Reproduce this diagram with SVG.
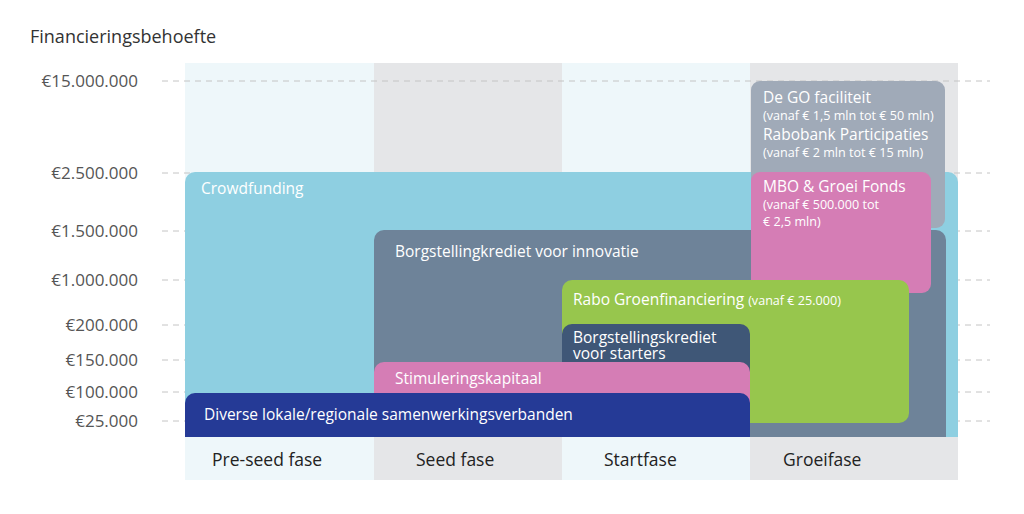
<svg xmlns="http://www.w3.org/2000/svg" width="1024" height="514" viewBox="0 0 1024 514">
<style>
.lt{fill:#eef7fa}.gy{fill:#e5e6e8}
.grid{stroke:#c4c4c4;stroke-width:1;stroke-dasharray:6 5;fill:none}
.ax{font-family:"Open Sans","Liberation Sans",sans-serif;font-size:17px;fill:#555;text-anchor:end}
.w{font-family:"Open Sans","Liberation Sans",sans-serif;font-size:15.5px;fill:#fff}
.ws{font-family:"Open Sans","Liberation Sans",sans-serif;font-size:12.6px;fill:#fff}
.ph{font-family:"Open Sans","Liberation Sans",sans-serif;font-size:17.5px;fill:#222}
</style>
<rect width="1024" height="514" fill="#fff"/>
<g id="columns">
<rect class="lt" x="185" y="63" width="189" height="417"/>
<rect class="gy" x="374" y="63" width="188" height="417"/>
<rect class="lt" x="562" y="63" width="188" height="417"/>
<rect class="gy" x="750" y="63" width="208" height="417"/>
</g>
<g id="grid">
<line class="grid" x1="162" y1="81" x2="990" y2="81"/>
<line class="grid" x1="162" y1="173" x2="990" y2="173"/>
<line class="grid" x1="162" y1="231" x2="990" y2="231"/>
<line class="grid" x1="162" y1="280" x2="990" y2="280"/>
<line class="grid" x1="162" y1="325" x2="990" y2="325"/>
<line class="grid" x1="162" y1="360" x2="990" y2="360"/>
<line class="grid" x1="162" y1="392" x2="990" y2="392"/>
<line class="grid" x1="162" y1="421" x2="990" y2="421"/>
</g>
<text x="30" y="43" font-family="'Open Sans','Liberation Sans',sans-serif" font-size="18" fill="#333">Financieringsbehoefte</text>
<g id="axis">
<text class="ax" x="138" y="87">€15.000.000</text>
<text class="ax" x="138" y="179">€2.500.000</text>
<text class="ax" x="138" y="237">€1.500.000</text>
<text class="ax" x="138" y="286">€1.000.000</text>
<text class="ax" x="138" y="331">€200.000</text>
<text class="ax" x="138" y="366">€150.000</text>
<text class="ax" x="138" y="398">€100.000</text>
<text class="ax" x="138" y="427">€25.000</text>
</g>
<g id="crowdfunding">
<rect x="185" y="172" width="773" height="280" rx="10" fill="#8ecfe1"/>
<text class="w" x="201" y="194">Crowdfunding</text>
</g>
<g id="go">
<rect x="751" y="81" width="194" height="147" rx="9" fill="#a0aab8"/>
<text class="w" x="763" y="103">De GO faciliteit</text>
<text class="ws" x="763" y="120">(vanaf € 1,5 mln tot € 50 mln)</text>
<text class="w" x="763" y="140">Rabobank Participaties</text>
<text class="ws" x="763" y="157">(vanaf € 2 mln tot € 15 mln)</text>
</g>
<g id="innovatie">
<rect x="374" y="230" width="572" height="222" rx="10" fill="#6e8399"/>
<text class="w" x="395" y="257">Borgstellingkrediet voor innovatie</text>
</g>
<g id="mbo">
<rect x="751" y="172" width="180" height="121" rx="9" fill="#d57db5"/>
<text class="w" x="763" y="192">MBO &amp; Groei Fonds</text>
<text class="ws" x="763" y="209">(vanaf € 500.000 tot</text>
<text class="ws" x="763" y="226">€ 2,5 mln)</text>
</g>
<g id="groen">
<rect x="562" y="280" width="347" height="143" rx="10" fill="#97c64d"/>
<text class="w" x="573" y="305">Rabo Groenfinanciering <tspan font-size="12.6">(vanaf € 25.000)</tspan></text>
</g>
<g id="starters">
<rect x="562" y="324" width="188" height="80" rx="10" fill="#3f5777"/>
<text class="w" x="573" y="343">Borgstellingskrediet<tspan x="573" dy="16">voor starters</tspan></text>
</g>
<g id="stimulering">
<rect x="374" y="362" width="376" height="60" rx="10" fill="#d57db5"/>
<text class="w" x="395" y="384">Stimuleringskapitaal</text>
</g>
<g id="diverse">
<rect x="185" y="393" width="565" height="60" rx="10" fill="#253a96"/>
<text class="w" x="204" y="420" font-size="15.9">Diverse lokale/regionale samenwerkingsverbanden</text>
</g>
<g id="phases">
<rect class="lt" x="185" y="437" width="189" height="43"/>
<rect class="gy" x="374" y="437" width="188" height="43"/>
<rect class="lt" x="562" y="437" width="188" height="43"/>
<rect class="gy" x="750" y="437" width="208" height="43"/>
<text class="ph" x="212" y="466">Pre-seed fase</text>
<text class="ph" x="416" y="466">Seed fase</text>
<text class="ph" x="604" y="466">Startfase</text>
<text class="ph" x="783" y="466">Groeifase</text>
</g>
</svg>
